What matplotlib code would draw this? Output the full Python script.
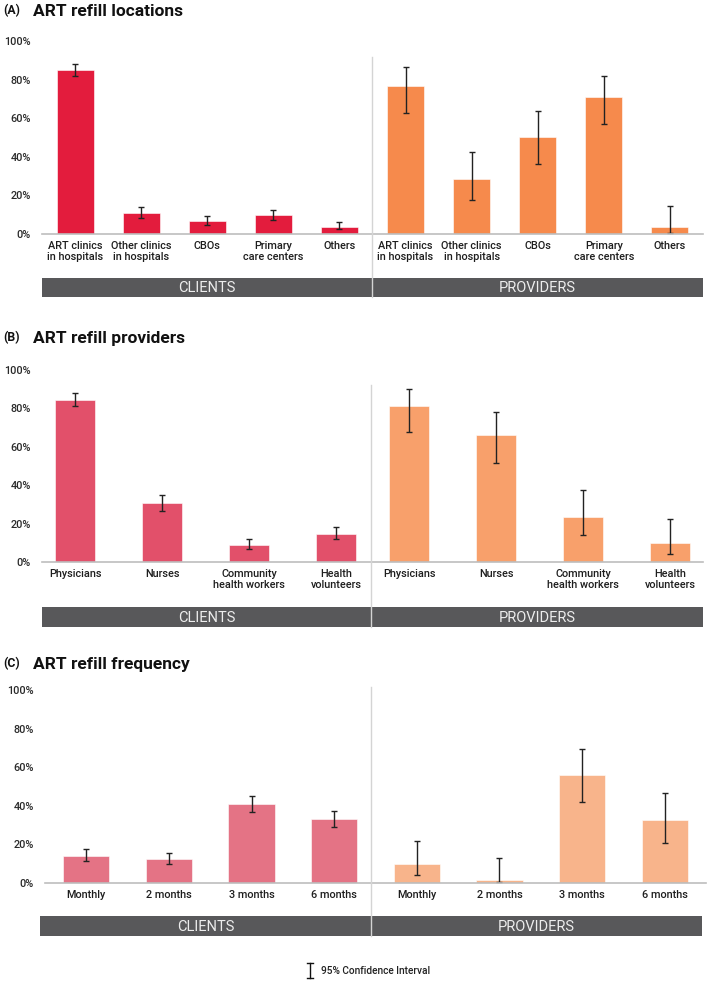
import matplotlib
matplotlib.use("Agg")
import matplotlib.pyplot as plt
from matplotlib.lines import Line2D

plt.rcParams['font.family'] = ['Roboto', 'DejaVu Sans']

# ------------------------------
# Data (percent)
# ------------------------------

loc_labels = ["ART clinics\nin hospitals", "Other clinics\nin hospitals", "CBOs",
              "Primary\ncare centers", "Others"]
loc_clients = [85.2, 10.9, 6.6, 9.7, 3.8]
loc_clients_lo = [81.7, 8.3, 4.5, 7.1, 2.4]
loc_clients_hi = [88.1, 14.0, 9.1, 12.6, 6.0]
loc_providers = [76.9, 28.6, 50.0, 71.2, 3.6]
loc_providers_lo = [62.9, 17.6, 36.2, 56.9, 0.5]
loc_providers_hi = [86.6, 42.6, 63.8, 82.1, 14.7]

prov_labels = ["Physicians", "Nurses", "Community\nhealth workers", "Health\nvolunteers"]
prov_clients = [84.6, 30.5, 8.8, 14.7]
prov_clients_lo = [81.1, 26.5, 6.6, 12.0]
prov_clients_hi = [87.9, 35.0, 12.0, 18.2]
prov_providers = [81.5, 66.0, 23.4, 9.9]
prov_providers_lo = [67.9, 51.6, 13.9, 4.2]
prov_providers_hi = [90.3, 78.2, 37.4, 22.2]

freq_labels = ["Monthly", "2 months", "3 months", "6 months"]
freq_clients = [13.8, 12.3, 40.8, 33.0]
freq_clients_lo = [11.2, 9.9, 36.7, 29.1]
freq_clients_hi = [17.5, 15.6, 45.3, 37.4]
freq_providers = [9.7, 1.7, 55.9, 32.7]
freq_providers_lo = [4.2, 0.3, 42.0, 20.9]
freq_providers_hi = [21.6, 12.8, 69.2, 46.7]

group_names = ["CLIENTS", "PROVIDERS"]
y_ticks = [0, 20, 40, 60, 80, 100]

# ------------------------------
# Layout helpers (pixels of a 709x982 figure)
# ------------------------------

W, H = 709, 982
fig = plt.figure(figsize=(W / 100, H / 100), dpi=100)


def px_axes(x0, x1, ytop, ybot):
    return fig.add_axes([x0 / W, 1 - ybot / H, (x1 - x0) / W, (ybot - ytop) / H])


def panel(letter, title, title_y, labels, c_vals, c_lo, c_hi, p_vals, p_lo, p_hi,
          c_color, p_color, ax_box, band_box, div_px, div_top, gap, width):
    x0, x1, ytop, ybot = ax_box
    ax = px_axes(x0, x1, ytop, ybot)
    n = len(labels)
    xc = list(range(n))
    xp = [n - 1 + gap + i for i in range(n)]
    left = -0.5 if gap == 1 else -0.38
    right = xp[-1] + (0.5 if gap == 1 else 0.38)

    c_err = [[v - lo for v, lo in zip(c_vals, c_lo)], [hi - v for v, hi in zip(c_vals, c_hi)]]
    p_err = [[v - lo for v, lo in zip(p_vals, p_lo)], [hi - v for v, hi in zip(p_vals, p_hi)]]
    ekw = dict(ecolor="#222222", elinewidth=1.0, capsize=2.4, capthick=1.0)
    ax.bar(xc, c_vals, width, color=c_color, edgecolor="#ffffff", linewidth=0.4,
           yerr=c_err, error_kw=ekw, zorder=2)
    ax.bar(xp, p_vals, width, color=p_color, edgecolor="#ffffff", linewidth=0.4,
           yerr=p_err, error_kw=ekw, zorder=2)

    ax.set_xlim(left, right)
    ax.set_ylim(0, 100)
    ax.set_xticks(xc + xp)
    ax.set_xticklabels(labels + labels, fontsize=7.8, color="#1e1e1e", fontweight="medium",
                       linespacing=1.15)
    ax.set_yticks(y_ticks)
    ax.set_yticklabels([f"{t}%" for t in y_ticks], fontsize=7.8, color="#2a2a2a",
                       fontweight="medium")
    ax.tick_params(axis="both", length=0)
    ax.tick_params(axis="y", pad=8)
    ax.tick_params(axis="x", pad=5)
    for s in ["top", "right", "left"]:
        ax.spines[s].set_visible(False)
    ax.spines["bottom"].set_color("#bdbdbd")
    ax.spines["bottom"].set_linewidth(1.2)

    # dark group band under the axis
    bx0, bx1, btop, bbot = band_box
    band = px_axes(bx0, bx1, btop, bbot)
    band.set_xlim(bx0, bx1)
    band.set_ylim(0, 1)
    band.set_facecolor("#58585a")
    band.set_xticks([])
    band.set_yticks([])
    for s in band.spines.values():
        s.set_visible(False)
    band.text((bx0 + div_px) / 2, 0.45, group_names[0], ha="center", va="center",
              fontsize=10.5, color="#ededed")
    band.text((div_px + bx1) / 2, 0.45, group_names[1], ha="center", va="center",
              fontsize=10.5, color="#ededed")

    # divider line running from the plot down through the band
    fig.add_artist(Line2D([div_px / W, div_px / W], [1 - div_top / H, 1 - bbot / H],
                          color="#d4d4d4", linewidth=1.0, zorder=5))

    fig.text(3 / W, 1 - title_y / H, f"({letter})", fontsize=8.8, fontweight="bold",
             color="#111111", va="center")
    fig.text(33 / W, 1 - title_y / H, title, fontsize=12.5, fontweight="bold",
             color="#111111", va="center")
    return ax


panel("A", "ART refill locations", 11, loc_labels,
      loc_clients, loc_clients_lo, loc_clients_hi,
      loc_providers, loc_providers_lo, loc_providers_hi,
      "#e31c3d", "#f68a4c", (42, 703, 41, 234), (42, 703, 278, 297), 372, 57, 1, 0.56)

panel("B", "ART refill providers", 338, prov_labels,
      prov_clients, prov_clients_lo, prov_clients_hi,
      prov_providers, prov_providers_lo, prov_providers_hi,
      "#e2506a", "#f8a06b", (42, 703, 370, 562), (42, 703, 607, 627), 371, 385, 0.84, 0.47)

panel("C", "ART refill frequency", 664, freq_labels,
      freq_clients, freq_clients_lo, freq_clients_hi,
      freq_providers, freq_providers_lo, freq_providers_hi,
      "#e47385", "#f8b48b", (45, 706, 690, 883), (40, 702, 916, 936), 371, 687, 1, 0.56)

# legend for the confidence interval
ix = 310 / W
fig.add_artist(Line2D([ix, ix], [1 - 963 / H, 1 - 978 / H], color="#111111", linewidth=1.0))
for yy in (963, 978):
    fig.add_artist(Line2D([ix - 3 / W, ix + 3 / W], [1 - yy / H, 1 - yy / H],
                          color="#111111", linewidth=1.0))
fig.text(321 / W, 1 - 971 / H, "95% Confidence Interval", fontsize=7.3,
         color="#222222", fontweight="medium", va="center")

fig.savefig("out.png", dpi=100)
